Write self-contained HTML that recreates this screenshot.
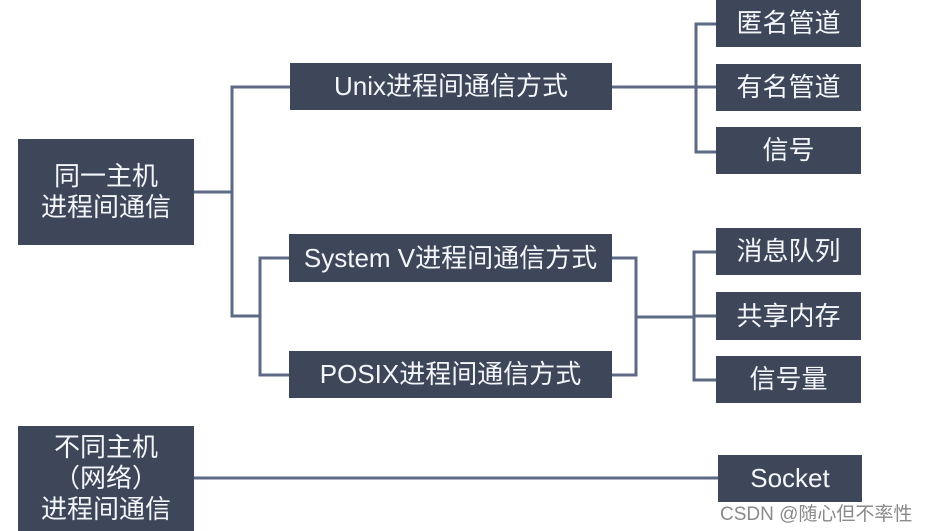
<!DOCTYPE html>
<html><head><meta charset="utf-8"><style>
html,body{margin:0;padding:0;background:#fff;width:927px;height:531px;overflow:hidden;position:relative}
.b{position:absolute;background:#3d4759;color:#f4f6fa;font-family:"Liberation Sans","Noto Sans CJK SC",sans-serif;font-size:26px;display:flex;align-items:center;justify-content:center;text-align:center;line-height:31px;white-space:nowrap}
svg{position:absolute;left:0;top:0}
.wm{position:absolute;left:720px;top:499px;font-family:"Liberation Sans","Noto Sans CJK SC",sans-serif;font-size:19px;color:#8a8a8a;white-space:nowrap}
</style></head><body>
<svg width="927" height="531"><g stroke="#5d6a85" stroke-width="3" fill="none">
<polyline points="194,192 232,192"/>
<polyline points="290,87 232,87 232,316 260,316"/>
<polyline points="289,258 260,258 260,375 289,375"/>
<polyline points="612,258 636,258 636,375 612,375"/>
<polyline points="636,317 694,317"/>
<polyline points="716,252 694,252 694,380 716,380"/>
<polyline points="694,316 716,316"/>
<polyline points="612,87 696,87"/>
<polyline points="716,24 696,24 696,152 716,152"/>
<polyline points="696,87 716,87"/>
<polyline points="194,478 718,478"/>
</g></svg>
<div class="b" style="left:18px;top:139px;width:176px;height:106px">同一主机<br>进程间通信</div>
<div class="b" style="left:290px;top:63px;width:322px;height:47px">Unix进程间通信方式</div>
<div class="b" style="left:289px;top:234px;width:323px;height:48px">System V进程间通信方式</div>
<div class="b" style="left:289px;top:351px;width:323px;height:47px">POSIX进程间通信方式</div>
<div class="b" style="left:716px;top:0px;width:145px;height:47px">匿名管道</div>
<div class="b" style="left:716px;top:64px;width:145px;height:47px">有名管道</div>
<div class="b" style="left:716px;top:127px;width:145px;height:47px">信号</div>
<div class="b" style="left:716px;top:228px;width:145px;height:47px">消息队列</div>
<div class="b" style="left:716px;top:292px;width:145px;height:48px">共享内存</div>
<div class="b" style="left:716px;top:356px;width:145px;height:47px">信号量</div>
<div class="b" style="left:18px;top:426px;width:176px;height:105px">不同主机<br>（网络）<br>进程间通信</div>
<div class="b" style="left:718px;top:455px;width:144px;height:47px">Socket</div>
<div class="wm">CSDN @随心但不率性</div>
</body></html>
